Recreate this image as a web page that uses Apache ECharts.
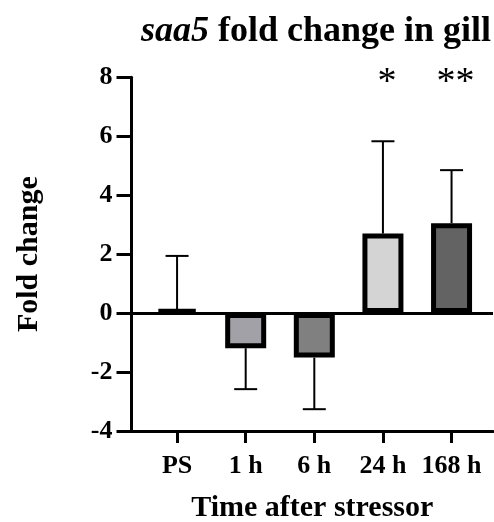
<!DOCTYPE html>
<html>
<head>
<meta charset="utf-8">
<script src="https://cdn.jsdelivr.net/npm/echarts@6/dist/echarts.min.js"></script>
<style>html,body{margin:0;padding:0;background:#fff;}#main{width:494px;height:522px;}</style>
</head>
<body>
<div id="main"></div>
<script>
var categories = ['PS', '1 h', '6 h', '24 h', '168 h'];
var means = [0.12, -1.19, -1.51, 2.70, 3.05];
var errors = [1.82, 1.39, 1.75, 3.13, 1.80];
var significance = ['', '', '', '*', '**'];
var barColors = ['#ffffff', '#a2a1a7', '#808080', '#d4d4d4', '#636363'];
var yTicks = [-4, -2, 0, 2, 4, 6, 8];

var FONT = '"Liberation Serif", "Times New Roman", serif';
var chart = echarts.init(document.getElementById('main'), null, {renderer: 'canvas'});

var barData = means.map(function (m, i) {
  return {value: [i, m], itemStyle: {color: barColors[i]}};
});
var errData = means.map(function (m, i) {
  return [i, m, m + (m >= 0 ? errors[i] : -errors[i])];
});
var sigData = significance.map(function (s, i) { return [i, yTicks[yTicks.length - 1], s]; });

chart.setOption({
  animation: false,
  title: {
    text: '{i|saa5} fold change in gill',
    left: 311, top: 9, textAlign: 'center',
    textStyle: {
      fontFamily: FONT, fontSize: 36, fontWeight: 'bold', color: '#000',
      rich: {i: {fontFamily: FONT, fontSize: 36, fontWeight: 'bold', fontStyle: 'italic', color: '#000'}}
    }
  },
  grid: {left: 131.5, right: 1, top: 77.3, bottom: 91, containLabel: false, outerBoundsMode: 'none'},
  xAxis: {
    type: 'value', min: -0.664, max: 4.604,
    splitLine: {show: false},
    axisLine: {onZero: false, lineStyle: {color: '#000', width: 3}},
    axisTick: {show: true, length: 12, lineStyle: {color: '#000', width: 3}, customValues: [0, 1, 2, 3, 4]},
    axisLabel: {
      customValues: [0, 1, 2, 3, 4], margin: 22,
      formatter: function (v) { return categories[Math.round(v)]; },
      fontFamily: FONT, fontSize: 26, fontWeight: 'bold', color: '#000'
    },
    name: 'Time after stressor', nameLocation: 'middle', nameGap: 62,
    nameTextStyle: {fontFamily: FONT, fontSize: 30, fontWeight: 'bold', color: '#000'}
  },
  yAxis: {
    type: 'value', min: -4, max: 8, interval: 2,
    splitLine: {show: false},
    axisLine: {show: true, onZero: false, lineStyle: {color: '#000', width: 3}},
    axisTick: {show: true, length: 15, lineStyle: {color: '#000', width: 3}},
    axisLabel: {margin: 19, fontFamily: FONT, fontSize: 26, fontWeight: 'bold', color: '#000'},
    name: 'Fold change', nameLocation: 'middle', nameGap: 87, nameRotate: 90,
    nameTextStyle: {fontFamily: FONT, fontSize: 30, fontWeight: 'bold', color: '#000'}
  },
  series: [
    {
      type: 'custom', z: 1,
      renderItem: function (params, api) {
        var x = api.value(0);
        var p0 = api.coord([x, api.value(1)]);
        var p1 = api.coord([x, api.value(2)]);
        var half = 11.5;
        return {
          type: 'group',
          children: [
            {type: 'line', shape: {x1: p0[0], y1: p0[1], x2: p1[0], y2: p1[1]}, style: {stroke: '#000', lineWidth: 2}},
            {type: 'line', shape: {x1: p1[0] - half, y1: p1[1], x2: p1[0] + half, y2: p1[1]}, style: {stroke: '#000', lineWidth: 2}}
          ]
        };
      },
      data: errData
    },
    {
      type: 'bar', z: 2, barWidth: 41,
      itemStyle: {borderColor: '#000', borderWidth: 5},
      data: barData,
      markLine: {
        silent: true, symbol: 'none', label: {show: false},
        lineStyle: {color: '#000', width: 3, type: 'solid'},
        data: [{yAxis: 0}]
      }
    },
    {
      type: 'custom', z: 3,
      renderItem: function (params, api) {
        var p = api.coord([api.value(0), api.value(1)]);
        return {
          type: 'text', x: p[0] + 4, y: p[1] + 6,
          style: {text: significance[params.dataIndex], font: 'normal 38px ' + FONT, fill: '#000', align: 'center', verticalAlign: 'middle'}
        };
      },
      clip: false,
      data: sigData
    }
  ]
});
</script>
</body>
</html>
